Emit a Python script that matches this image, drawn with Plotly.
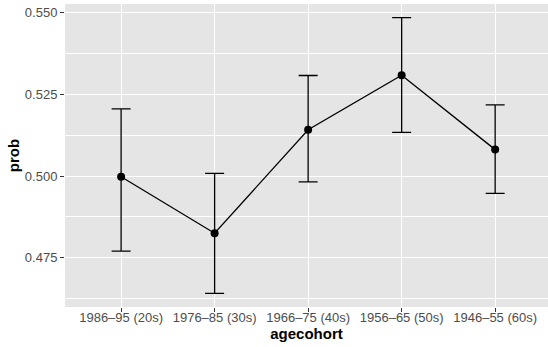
import plotly.graph_objects as go

# Probability estimates by age cohort with confidence intervals
agecohort = ["1986–95 (20s)", "1976–85 (30s)", "1966–75 (40s)", "1956–65 (50s)", "1946–55 (60s)"]
prob = [0.4998, 0.4825, 0.5142, 0.5309, 0.5081]
upper = [0.5206, 0.5008, 0.5308, 0.5485, 0.5218]
lower = [0.4770, 0.4641, 0.4982, 0.5134, 0.4947]

err_plus = [u - p for u, p in zip(upper, prob)]
err_minus = [p - l for p, l in zip(prob, lower)]

fig = go.Figure()
fig.add_trace(go.Scatter(
    x=agecohort,
    y=prob,
    mode="lines+markers",
    line=dict(color="black", width=1.3),
    marker=dict(color="black", size=8),
    error_y=dict(type="data", symmetric=False, array=err_plus, arrayminus=err_minus,
                 color="black", thickness=1.3, width=9.5),
    showlegend=False,
))

font_family = "Liberation Sans, Arial, Helvetica, sans-serif"

fig.update_layout(
    width=548, height=347,
    margin=dict(l=65, r=0, t=4, b=40),
    paper_bgcolor="white",
    plot_bgcolor="#E5E5E5",
    font=dict(family=font_family, size=13, color="#4D4D4D"),
    xaxis=dict(
        type="category",
        range=[-0.6, 4.565],
        showgrid=True, gridcolor="white", gridwidth=1.2,
        zeroline=False, showline=False,
        ticks="outside", ticklen=4, tickcolor="#333333", tickwidth=1,
        ticklabelstandoff=-6,
        tickfont=dict(size=13, color="#4D4D4D"),
        title=dict(text="<b>agecohort</b>", font=dict(size=15, color="black"), standoff=2),
    ),
    yaxis=dict(
        range=[0.4599, 0.5527],
        tickvals=[0.475, 0.500, 0.525, 0.550],
        ticktext=["0.475", "0.500", "0.525", "0.550"],
        showgrid=True, gridcolor="white", gridwidth=1.2,
        minor=dict(tickvals=[0.4625, 0.4875, 0.5125, 0.5375], showgrid=True,
                   gridcolor="white", gridwidth=0.6, ticks=""),
        zeroline=False, showline=False,
        ticks="outside", ticklen=4, tickcolor="#333333", tickwidth=1,
        tickfont=dict(size=13, color="#4D4D4D"),
        title=dict(text="<b>prob</b>", font=dict(size=15, color="black"), standoff=1),
    ),
)

fig.write_html("out.html")
